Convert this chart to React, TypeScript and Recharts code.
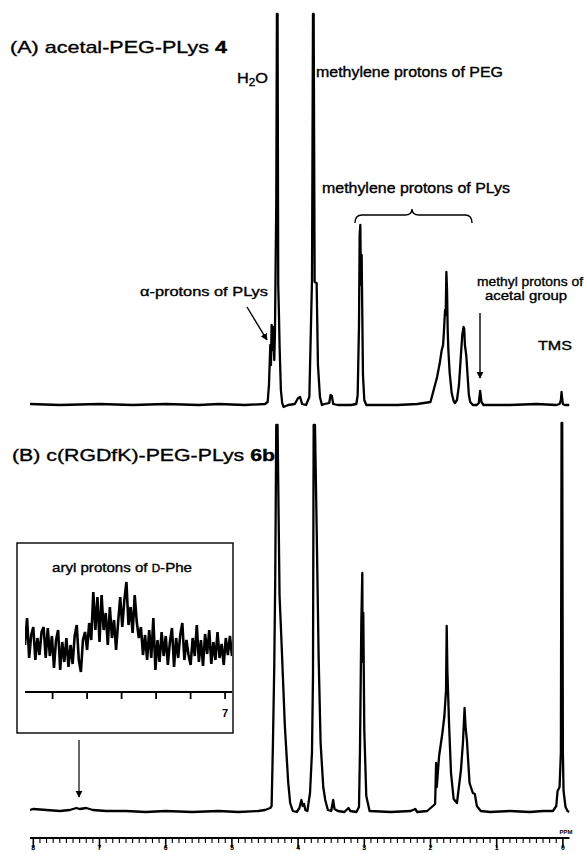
import React from 'react';
import { LineChart, Line, XAxis, YAxis } from 'recharts';

const FONT = '"Liberation Sans", Arial, Helvetica, sans-serif';

// (A) acetal-PEG-PLys 4 : chemical shift (ppm) and signal height above baseline
const ppmA = [
  8.05, 7.6, 7.0, 6.5, 6.0, 5.5, 5.2, 4.8, 4.5, 4.46, 4.44, 4.42, 4.41, 4.4, 4.39, 4.38, 4.36, 4.35,
  4.33, 4.32, 4.31, 4.3, 4.29, 4.28, 4.26, 4.24, 4.22, 4.15, 4.05, 4.0, 3.97, 3.94, 3.88, 3.83, 3.79,
  3.775, 3.765, 3.75, 3.72, 3.7, 3.67, 3.64, 3.6, 3.53, 3.51, 3.49, 3.47, 3.4, 3.2, 3.12, 3.1, 3.08,
  3.07, 3.06, 3.05, 3.04, 3.03, 3.02, 3.0, 2.97, 2.5, 2.2, 2.0, 1.98, 1.94, 1.9, 1.86, 1.83, 1.81, 1.8,
  1.78, 1.77, 1.76, 1.75, 1.74, 1.73, 1.71, 1.68, 1.65, 1.63, 1.6, 1.57, 1.55, 1.52, 1.5, 1.49, 1.48,
  1.46, 1.44, 1.42, 1.4, 1.36, 1.3, 1.27, 1.25, 1.23, 1.2, 0.8, 0.4, 0.1, 0.05, 0.03, 0.02, 0.01, 0.0,
  -0.03, -0.1,
];
const intA = [
  1, 0, 1, 0, 1, 0, 1, 0, 1, 3, 20, 60, 40, 80, 55, 78, 45, 70,
  200, 391, 391, 120, 93, 60, 15, 2, -2, 0, 1, 7, 8, 1, 0, 8, 125,
  391, 391, 123, 122, 40, 8, 0, 1, 2, 10, 9, 1, 0, 0, 1, 10, 80,
  170, 180, 120, 150, 90, 30, 5, 0, 0, 1, 3, 8, 18, 28, 42, 55, 60, 70,
  95, 90, 133, 115, 75, 55, 32, 12, 4, 2, 5, 20, 40, 70, 78, 76, 60,
  50, 30, 10, 3, 0, 0, 2, 14, 3, 0, 0, 1, 0, 1, 5, 13, 6, 1,
  0, 0,
];

// (B) c(RGDfK)-PEG-PLys 6b
const ppmB = [
  8.05, 8.0, 7.8, 7.6, 7.45, 7.35, 7.3, 7.2, 7.1, 6.9, 6.6, 6.3, 6.0, 5.6, 5.2, 4.9, 4.6, 4.5,
  4.42, 4.4, 4.38, 4.36, 4.345, 4.33, 4.31, 4.295, 4.28, 4.25, 4.2, 4.15, 4.12, 4.08, 4.02,
  3.98, 3.95, 3.93, 3.91, 3.89, 3.86,
  3.82, 3.79, 3.775, 3.765, 3.745, 3.72, 3.69, 3.66, 3.62, 3.59, 3.55,
  3.5, 3.47, 3.45, 3.4, 3.3, 3.24, 3.21, 3.12, 3.08,
  3.065, 3.045, 3.03, 3.025, 3.015, 3.0, 2.97, 2.92,
  2.6, 2.3, 2.23, 2.2, 2.05, 1.98,
  1.93, 1.915, 1.905, 1.87, 1.82, 1.79, 1.765, 1.755, 1.745, 1.72, 1.69, 1.65, 1.6,
  1.54, 1.51, 1.485, 1.47, 1.45, 1.41, 1.36, 1.33, 1.3, 1.24, 1.1, 0.8, 0.5, 0.3, 0.15,
  0.1, 0.08, 0.05, 0.03, 0.02, 0.01, 0.0, -0.01, -0.04, -0.07, -0.1,
];
const intB = [
  2, 3, 2, 1, 2, 4, 3, 4, 2, 1, 1, 0, 1, 0, 1, 0, 1, 2,
  4, 6, 69, 146, 236, 387, 387, 300, 216, 169, 86, 30, 9, 1, 0,
  4, 12, 6, 8, 2, 1,
  19, 60, 136, 387, 387, 286, 156, 69, 25, 12, 2,
  1, 12, 3, 1, 0, 4, 1, 0, 5,
  62, 189, 239, 150, 199, 82, 16, 1,
  0, 1, 3, 0, 1, 5,
  8, 49, 25, 56, 79, 96, 122, 186, 142, 89, 39, 13, 9,
  42, 69, 104, 85, 72, 29, 19, 18, 6, 1, 0, 1, 0, 1, 1,
  6, 21, 25, 60, 389, 389, 60, 21, 5, 1, 0,
];

// inset: aryl protons of D-Phe, sampled from 7.58 ppm downfield edge in 0.006 ppm steps
const insetStart = 7.58;
const insetStep = 0.006;
const insetNoise = [
  5, 32, -8, 15, 23, -10, 12, -5, 18, 23, -8, 22, -6, 14, -18, 10, 20, -20, 8, -12,
  12, -17, 5, -14, 14, 25, -10, -22, 10, 18, 0, 27, 10, 58, 20, 53, 8, 55, 20, 37,
  5, 43, 12, 30, 0, 28, 53, 23, 50, 68, 25, 43, 17, 55, 28, 12, 23, -5, 15, -10,
  20, -8, 32, -20, 10, -12, 18, -6, 14, -15, 8, 22, -17, 12, -8, 15, 27, -10, 10, -5,
  -15, 12, -6, 25, -12, 10, -16, 16, -4, 20, -14, 8, -10, 18, -8, 6, -15, 12, -5, 14,
  -6,
];
const insetTicks = [7.5, 7.4, 7.3, 7.2, 7.1, 7.0];

const axisTicks = Array.from({ length: 81 }, (_, i) => i / 10);
const tickLabels = ['0', '1', '2', '3', '4', '5', '6', '7', '8'];

const dataA = ppmA.map((p, i) => ({ ppm: p, h: intA[i] }));
const dataB = ppmB.map((p, i) => ({ ppm: p, h: intB[i] }));
const dataInset = insetNoise.map((v, i) => ({ ppm: insetStart - i * insetStep, h: v }));

const RulerTick = ({ x, y, payload }: any) => {
  const v = payload.value;
  const major = Math.abs(v - Math.round(v)) < 1e-6;
  return (
    <g>
      <line x1={x} x2={x} y1={y} y2={y + (major ? 10 : 5)} stroke="#000" strokeWidth={major ? 1.6 : 1.1} />
      {major && (
        <text x={x} y={y + 12} textAnchor="middle" fontSize={7} fontWeight="bold" fontFamily={FONT} fill="#000">
          {tickLabels[Math.round(v)]}
        </text>
      )}
    </g>
  );
};

const InsetTick = ({ x, y, payload }: any) => {
  const v = payload.value;
  return (
    <g>
      <line x1={x} x2={x} y1={y} y2={y + 7} stroke="#000" strokeWidth={1.8} />
      {Math.abs(v - 7) < 1e-6 && (
        <text x={x} y={y + 25} textAnchor="middle" fontSize={11} fontWeight="bold" fontFamily={FONT} fill="#000">
          7
        </text>
      )}
    </g>
  );
};

const lineProps = {
  type: 'linear' as const,
  dataKey: 'h',
  dot: false,
  stroke: '#000',
  strokeWidth: 2.3,
  strokeLinejoin: 'round' as const,
  isAnimationActive: false,
};

// heavier look of the scanned lettering
const ink = { fill: '#000', stroke: '#000', strokeWidth: 0.35 };

export default function App() {
  return (
    <div style={{ position: 'absolute', left: 0, top: 0, width: 584, height: 854, background: '#fff', overflow: 'hidden' }}>
      <div style={{ position: 'absolute', left: 0, top: 0 }}>
        <LineChart width={584} height={420} data={dataA} margin={{ top: 10, right: 14.5, bottom: 8, left: 30 }}>
          <XAxis type="number" dataKey="ppm" domain={[-0.1, 8.05]} reversed hide allowDataOverflow />
          <YAxis type="number" domain={[-7, 395]} hide allowDataOverflow />
          <Line {...lineProps} />
        </LineChart>
      </div>

      <div style={{ position: 'absolute', left: 0, top: 410 }}>
        <LineChart width={584} height={444} data={dataB} margin={{ top: 8, right: 14.5, bottom: 0, left: 30 }}>
          <XAxis
            type="number"
            dataKey="ppm"
            domain={[-0.1, 8.05]}
            reversed
            allowDataOverflow
            ticks={axisTicks}
            interval={0}
            height={16}
            tickSize={0}
            tickMargin={0}
            tickLine={false}
            axisLine={{ stroke: '#000', strokeWidth: 2 }}
            tick={<RulerTick />}
          />
          <YAxis type="number" domain={[-26, 394]} hide allowDataOverflow />
          <Line {...lineProps} />
        </LineChart>
      </div>

      <div style={{ position: 'absolute', left: 0, top: 560 }}>
        <LineChart width={240} height={160} data={dataInset} margin={{ top: 15, right: 8, bottom: 0, left: 25 }}>
          <XAxis
            type="number"
            dataKey="ppm"
            domain={[6.98, 7.58]}
            reversed
            allowDataOverflow
            ticks={insetTicks}
            interval={0}
            height={28}
            tickSize={0}
            tickMargin={0}
            tickLine={false}
            axisLine={{ stroke: '#000', strokeWidth: 2 }}
            tick={<InsetTick />}
          />
          <YAxis type="number" domain={[-42, 75]} hide allowDataOverflow />
          <Line {...lineProps} strokeWidth={2.6} strokeLinejoin="miter" />
        </LineChart>
      </div>

      <svg width={584} height={854} style={{ position: 'absolute', left: 0, top: 0, pointerEvents: 'none' }} fontFamily={FONT}>
        <defs>
          <marker id="head" viewBox="0 0 10 10" refX="9" refY="5" markerWidth="7" markerHeight="8" markerUnits="userSpaceOnUse" orient="auto">
            <path d="M0,0 L10,5 L0,10 z" fill="#000" />
          </marker>
        </defs>

        <text x={10} y={53} fontSize={17} textLength={217} lengthAdjust="spacingAndGlyphs" {...ink}>
          (A) acetal-PEG-PLys <tspan fontWeight="bold">4</tspan>
        </text>
        <text x={237} y={83} fontSize={14} textLength={31} lengthAdjust="spacingAndGlyphs" {...ink}>
          H<tspan fontSize={10} dy={3}>2</tspan><tspan dy={-3}>O</tspan>
        </text>
        <text x={316} y={77} fontSize={14} textLength={187} lengthAdjust="spacingAndGlyphs" {...ink}>
          methylene protons of PEG
        </text>
        <text x={322} y={193} fontSize={14} textLength={188} lengthAdjust="spacingAndGlyphs" {...ink}>
          methylene protons of PLys
        </text>
        <path d="M355,223 Q355,215 362,215 L405,215 Q412,215 412,209 Q412,215 419,215 L465,215 Q472,215 472,223" fill="none" stroke="#000" strokeWidth={1.4} />

        <text x={140} y={296} fontSize={13} textLength={128} lengthAdjust="spacingAndGlyphs" {...ink}>
          α-protons of PLys
        </text>
        <line x1={247} y1={307} x2={267} y2={340} stroke="#000" strokeWidth={1.4} markerEnd="url(#head)" />

        <text x={530} y={286} fontSize={13} textAnchor="middle" textLength={106} lengthAdjust="spacingAndGlyphs" {...ink}>
          methyl protons of
        </text>
        <text x={526} y={300} fontSize={13} textAnchor="middle" textLength={82} lengthAdjust="spacingAndGlyphs" {...ink}>
          acetal group
        </text>
        <line x1={480} y1={313} x2={480} y2={378} stroke="#000" strokeWidth={1.4} markerEnd="url(#head)" />

        <text x={538} y={350} fontSize={13} textLength={34} lengthAdjust="spacingAndGlyphs" {...ink}>
          TMS
        </text>

        <text x={12} y={461} fontSize={17} textLength={263} lengthAdjust="spacingAndGlyphs" {...ink}>
          (B) c(RGDfK)-PEG-PLys <tspan fontWeight="bold">6b</tspan>
        </text>

        <rect x={17} y={543} width={216} height={190} fill="none" stroke="#000" strokeWidth={1.4} />
        <text x={52} y={572} fontSize={13} textLength={140} lengthAdjust="spacingAndGlyphs" {...ink}>
          aryl protons of <tspan fontSize={10}>D</tspan>-Phe
        </text>
        <line x1={79} y1={740} x2={79} y2={797} stroke="#000" strokeWidth={1.2} markerEnd="url(#head)" />

        <text x={566} y={834} fontSize={6} fontWeight="bold" textAnchor="middle" fill="#000">
          PPM
        </text>
      </svg>
    </div>
  );
}
